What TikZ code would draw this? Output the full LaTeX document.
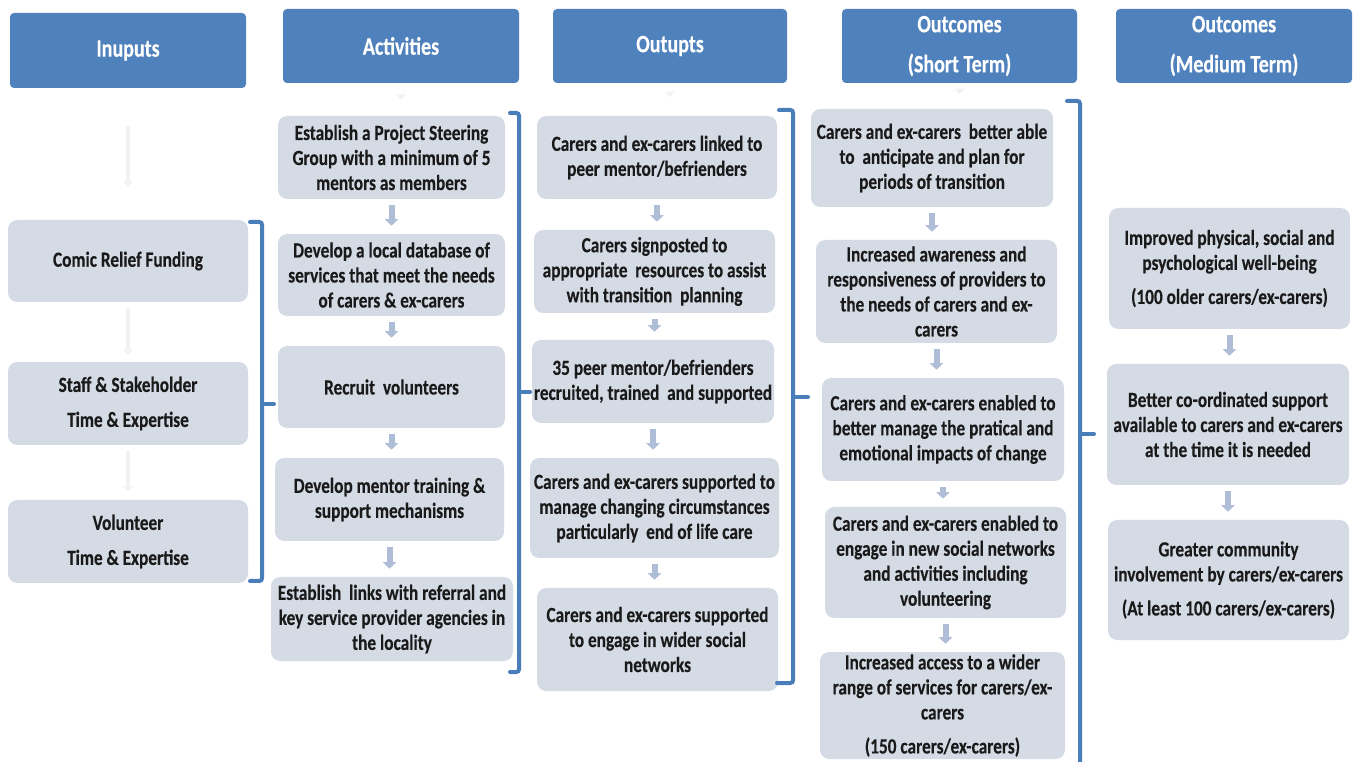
\documentclass[tikz,border=0pt]{standalone}
\usepackage{fontspec}
\setmainfont{Carlito}[FakeStretch=0.8, BoldFeatures={FakeBold=0.25}]
\usetikzlibrary{arrows.meta}
\definecolor{hdr}{HTML}{4F81BD}
\definecolor{boxfill}{HTML}{D5DBE5}
\definecolor{arr}{HTML}{AFBED6}
\definecolor{brk}{HTML}{4A7EBB}
\definecolor{txt}{HTML}{1A1A1A}
\definecolor{faint}{HTML}{F1F2F5}
\newcommand\mkbox[7]{\node[#1, minimum width={(#4-#2)*0.75pt}, minimum height={(#5-#3)*0.75pt}] (#6) at ({(#2+#4)/2},{(#3+#5)/2}) {#7};}
\tikzset{
  hdrbox/.style={fill=hdr, rounded corners=3pt, inner sep=0pt, align=center, text=white,
    font=\fontsize{18.75pt}{21pt}\selectfont\bfseries},
  bodybox/.style={fill=boxfill, rounded corners=7pt, inner sep=0pt, align=center, text=txt,
    font=\fontsize{16.2pt}{18.75pt}\selectfont\bfseries},
  barrow/.style={draw=arr, line width=4.5pt, -{Triangle[width=10pt,length=5pt]},
    shorten <=4pt, shorten >=6pt},
  farrow/.style={draw=faint, line width=3pt, -{Triangle[width=7pt,length=4pt]}},
  brack/.style={draw=brk, line width=3pt, rounded corners=2pt, line cap=round}
}
\begin{document}
\begin{tikzpicture}[x=0.75pt,y=-0.75pt]
\useasboundingbox (0,0) rectangle (1357,762);
\clip (0,0) rectangle (1357,762);
\fill[white] (0,0) rectangle (1357,762);

% headers
\mkbox{hdrbox}{10}{13}{246}{88}{hIn}{Inuputs}
\mkbox{hdrbox}{283}{9}{519}{83}{hAc}{Activities}
\mkbox{hdrbox}{553}{9}{787}{83}{hOu}{Outupts}
\mkbox{hdrbox}{842}{9}{1077}{83}{hSt}{Outcomes\\[9pt](Short Term)}
\mkbox{hdrbox}{1116}{9}{1352}{83}{hMd}{Outcomes\\[9pt](Medium Term)}

% inputs
\mkbox{bodybox}{8}{220}{248}{302}{i1}{Comic Relief Funding}
\mkbox{bodybox}{8}{362}{248}{445}{i2}{Staff \& Stakeholder\\[7.5pt]Time \& Expertise}
\mkbox{bodybox}{8}{500}{248}{583}{i3}{Volunteer\\[7.5pt]Time \& Expertise}

% activities
\mkbox{bodybox}{278}{116}{505}{199}{a1}{Establish a Project Steering\\Group with a minimum of 5\\mentors as members}
\mkbox{bodybox}{278}{234}{505}{316}{a2}{Develop a local database of\\services that meet the needs\\of carers \& ex-carers}
\mkbox{bodybox}{278}{346}{505}{428}{a3}{Recruit\ \ volunteers}
\mkbox{bodybox}{275}{458}{504}{541}{a4}{Develop mentor training \&\\support mechanisms}
\mkbox{bodybox}{271}{577}{513}{661}{a5}{Establish\ \ links with referral and\\key service provider agencies in\\the locality}

% outputs
\mkbox{bodybox}{537}{116}{777}{199}{o1}{Carers and ex-carers linked to\\peer mentor/befrienders}
\mkbox{bodybox}{534}{230}{775}{313}{o2}{Carers signposted to\\appropriate\ \ resources to assist\\with transition\ \ planning}
\mkbox{bodybox}{532}{340}{774}{423}{o3}{35 peer mentor/befrienders\\recruited, trained\ \ and supported}
\mkbox{bodybox}{530}{458}{779}{558}{o4}{Carers and ex-carers supported to\\manage changing circumstances\\particularly\ \ end of life care}
\mkbox{bodybox}{537}{588}{778}{691}{o5}{Carers and ex-carers supported\\to engage in wider social\\networks}

% short term outcomes
\mkbox{bodybox}{811}{109}{1053}{207}{s1}{Carers and ex-carers\ \ better able\\to\ \ anticipate and plan for\\periods of transition}
\mkbox{bodybox}{816}{240}{1057}{343}{s2}{Increased awareness and\\responsiveness of providers to\\the needs of carers and ex-\\carers}
\mkbox{bodybox}{822}{378}{1064}{481}{s3}{Carers and ex-carers enabled to\\better manage the pratical and\\emotional impacts of change}
\mkbox{bodybox}{825}{507}{1066}{618}{s4}{Carers and ex-carers enabled to\\engage in new social networks\\and activities including\\volunteering}
\mkbox{bodybox}{820}{652}{1065}{759}{s5}{Increased access to a wider\\range of services for carers/ex-\\carers\\[6.75pt](150 carers/ex-carers)}

% medium term outcomes
\mkbox{bodybox}{1109}{208}{1350}{329}{m1}{Improved physical, social and\\psychological well-being\\[6.75pt](100 older carers/ex-carers)}
\mkbox{bodybox}{1107}{364}{1349}{485}{m2}{Better co-ordinated support\\available to carers and ex-carers\\at the time it is needed}
\mkbox{bodybox}{1108}{520}{1349}{640}{m3}{Greater community\\involvement by carers/ex-carers\\[6.75pt](At least 100 carers/ex-carers)}

% block arrows
\foreach \p/\q in {a1/a2,a2/a3,a3/a4,a4/a5,o1/o2,o2/o3,o3/o4,o4/o5,s1/s2,s2/s3,s3/s4,s4/s5,m1/m2,m2/m3}
  \draw[barrow] (\p.south) -- (\p.south |- \q.north);

% faint arrows
\draw[farrow, shorten <=28pt, shorten >=25pt] (hIn.south) -- (hIn.south |- i1.north);
\draw[farrow, shorten <=4pt, shorten >=5pt] (i1.south) -- (i1.south |- i2.north);
\draw[farrow, shorten <=4pt, shorten >=6pt] (i2.south) -- (i2.south |- i3.north);
\draw[farrow, line width=2pt, shorten <=9pt, shorten >=12pt] (hAc.south) -- (hAc.south |- a1.north);
\draw[farrow, line width=2pt, shorten <=9pt, shorten >=14pt] (hOu.south) -- (hOu.south |- o1.north);
\draw[farrow, line width=2pt, shorten <=7pt, shorten >=11pt] (hSt.south) -- (hSt.south |- s1.north);

% brackets
\coordinate (bI) at (262,404);
\coordinate (bA) at (519,392);
\coordinate (bO) at (793,397);
\coordinate (bS) at (1080,434);
\draw[brack] (250,222) -- (262,222) -- (262,581) -- (250,581);
\draw[brack] (bI) -- ++(12,0);
\draw[brack] (510,113) -- (519,113) -- (519,672) -- (510,672);
\draw[brack] (bA) -- ++(11,0);
\draw[brack] (779,110) -- (793,110) -- (793,683) -- (777,683);
\draw[brack] (bO) -- ++(15,0);
\draw[brack] (1067,101) -- (1080,101) -- (1080,775);
\draw[brack] (bS) -- ++(14,0);
\end{tikzpicture}
\end{document}
